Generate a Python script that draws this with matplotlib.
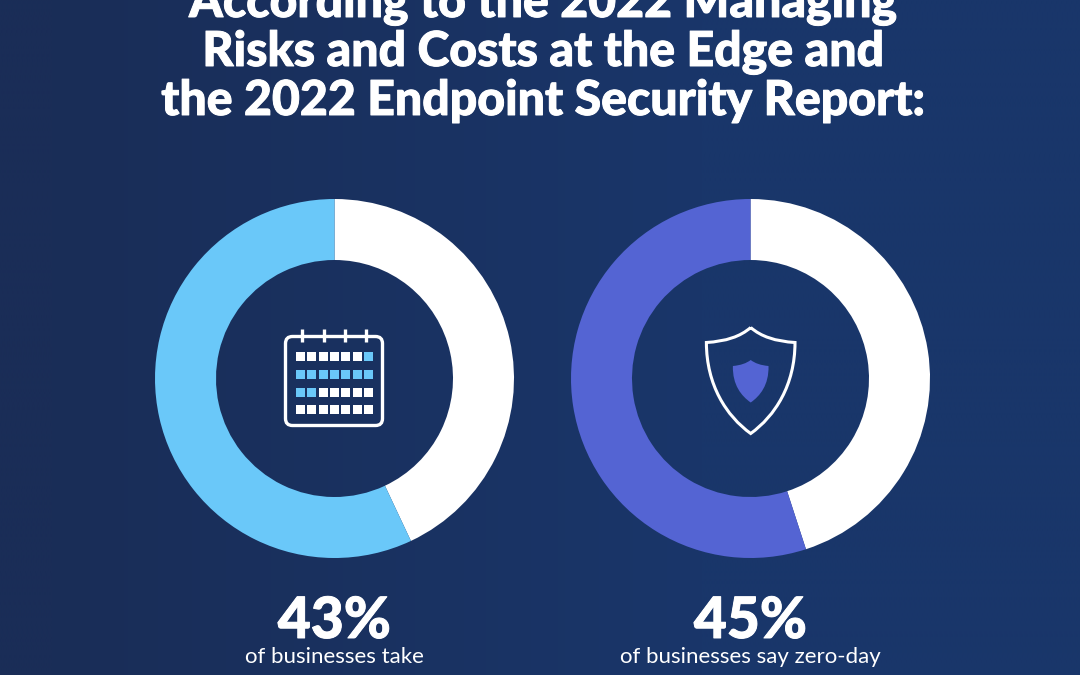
import numpy as np
import matplotlib
matplotlib.use('Agg')
import matplotlib.pyplot as plt
import matplotlib.patheffects as pe
from matplotlib.patches import FancyBboxPatch, PathPatch, Rectangle
from matplotlib.path import Path

W = 1080
H = 675

title_lines = ['According to the 2022 Managing', 'Risks and Costs at the Edge and', 'the 2022 Endpoint Security Report:']
percents = [43, 45]
captions = ['of businesses take', 'of businesses say zero-day']
ring_colors = ['#6AC8F9', '#5464D3']

# calendar cells: 1 = highlighted, 0 = white
calendar_cells = [
    [0, 0, 0, 0, 0, 0, 1],
    [1, 1, 1, 1, 1, 1, 1],
    [1, 1, 0, 0, 0, 0, 0],
    [0, 0, 0, 0, 0, 0, 0],
]

fig = plt.figure(figsize=(W / 100, H / 100), dpi=100)
ax = fig.add_axes([0, 0, 1, 1])

# background, darker on the left side
xx = np.linspace(0, 1, 216)[None, :]
t = np.clip((xx - 0.05) / 0.6, 0, 1)[..., None]
dark = np.array([0x1A, 0x2D, 0x57]) / 255
light = np.array([0x19, 0x36, 0x6A]) / 255
ax.imshow(dark + (light - dark) * t, extent=[0, W, 0, H], origin='upper', aspect='auto', zorder=0, interpolation='bilinear')


def py(y):
    return H - y


# donuts
centers = [(334.5, 378.5), (750.5, 378.5)]
for i in range(2):
    cx, cy = centers[i]
    ax.pie([percents[i], 100 - percents[i]], colors=['white', ring_colors[i]], startangle=90, counterclock=False,
           center=(cx, py(cy)), radius=179.5, wedgeprops={'width': 61, 'linewidth': 0}, frame=True)
ax.set_xlim(0, W)
ax.set_ylim(0, H)
ax.set_aspect('equal')
ax.axis('off')

# heavier than Lato Black gets on its own
bold = [pe.withStroke(linewidth=0.7, foreground='white')]

# titles
for i in range(3):
    ax.text(W / 2 + 2.5, py(17 + i * 49), title_lines[i], color='white', fontsize=34.7, fontfamily='Lato',
            fontweight='black', ha='center', va='baseline', zorder=5, path_effects=bold)

# percent numbers and captions
for i in range(2):
    cx = centers[i][0]
    ax.text(cx, py(638), '%d%%' % percents[i], color='white', fontsize=41, fontfamily='Lato',
            fontweight='black', ha='center', va='baseline', zorder=5, path_effects=bold)
    ax.text(cx, py(663), captions[i], color='white', fontsize=16, fontfamily='Lato',
            fontweight='normal', ha='center', va='baseline', zorder=5)

# calendar icon
ax.add_patch(FancyBboxPatch((285.5, py(425.5)), 97, 89, boxstyle='round,pad=0,rounding_size=7', fill=False, ec='white', lw=2.4, zorder=4))
for x in [302, 323.5, 345, 366]:
    ax.plot([x, x], [py(329), py(342)], color='white', lw=2.4, zorder=4, solid_capstyle='butt')
row_y = [356, 374, 392, 409]
for r in range(4):
    for c in range(7):
        col = ring_colors[0] if calendar_cells[r][c] else 'white'
        ax.add_patch(Rectangle((296 + c * 11.3, py(row_y[r] + 4.5)), 9, 9, fc=col, ec='none', zorder=4))

# shield icon
cx = 750.7
outer_right = [(cx, py(327.5)), (766, py(341)), (795, py(342.5)), (795, py(342.5)), (795, py(385)), (775, py(416)), (cx, py(433.5))]
outer_left = [(2 * cx - p[0], p[1]) for p in outer_right[::-1]][1:]
codes = [Path.MOVETO, Path.CURVE3, Path.CURVE3, Path.LINETO, Path.CURVE4, Path.CURVE4, Path.CURVE4,
         Path.CURVE4, Path.CURVE4, Path.CURVE4, Path.LINETO, Path.CURVE3, Path.CURVE3]
ax.add_patch(PathPatch(Path(outer_right + outer_left, codes), fill=False, ec='white', lw=2.2, joinstyle='miter', zorder=4))
inner_right = [(cx, py(360)), (757, py(365)), (768.5, py(366)), (768.5, py(366)), (769, py(385)), (760, py(396)), (cx, py(402.5))]
inner_left = [(2 * cx - p[0], p[1]) for p in inner_right[::-1]][1:]
ax.add_patch(PathPatch(Path(inner_right + inner_left, codes), fc=ring_colors[1], ec='none', zorder=4))

fig.savefig('out.png', dpi=100)
